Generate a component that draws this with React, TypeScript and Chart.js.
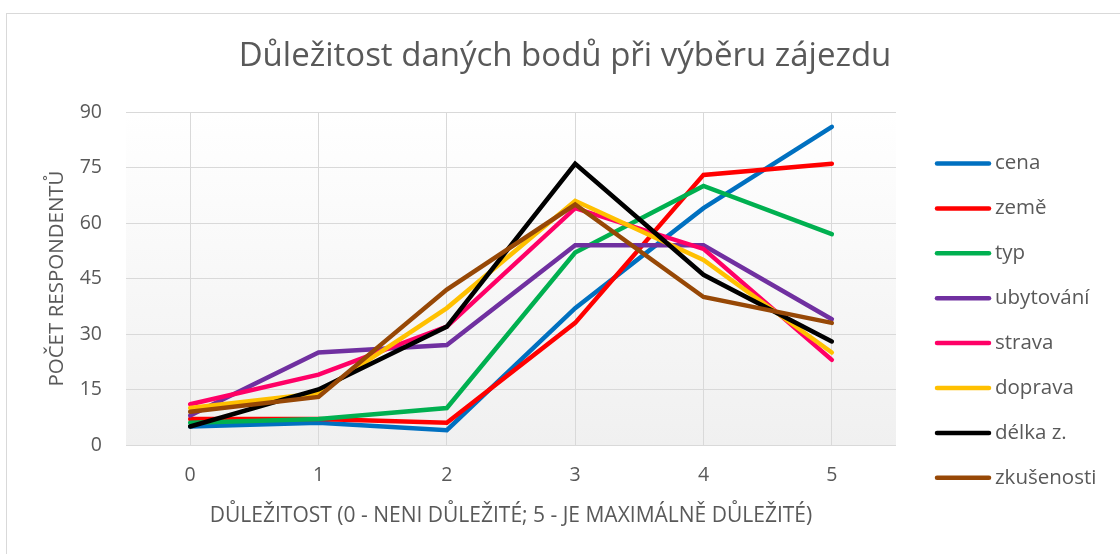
import { useEffect, useRef } from "react";
import { Chart, registerables } from "chart.js";

Chart.register(...registerables);

const categories = ["0", "1", "2", "3", "4", "5"];
const seriesNames = ["cena", "země", "typ", "ubytování", "strava", "doprava", "délka z.", "zkušenosti"];
const cena = [5, 6, 4, 37, 64, 86];
const zeme = [7, 7, 6, 33, 73, 76];
const typ = [6, 7, 10, 52, 70, 57];
const ubytovani = [8, 25, 27, 54, 54, 34];
const strava = [11, 19, 32, 64, 53, 23];
const doprava = [10, 14, 37, 66, 50, 25];
const delkaZ = [5, 15, 32, 76, 46, 28];
const zkusenosti = [9, 13, 42, 65, 40, 33];
const seriesColors = ["#0070C0", "#FF0000", "#00B050", "#7030A0", "#FF0066", "#FFC000", "#000000", "#974806"];
const yMin = 0;
const yMax = 90;
const yStep = 15;

const titleText = "Důležitost daných bodů při výběru zájezdu";
const xTitle = "DŮLEŽITOST (0 - NENI DŮLEŽITÉ; 5 - JE MAXIMÁLNĚ DŮLEŽITÉ)";
const yTitle = "POČET RESPONDENTŮ";

const FONT = "'Open Sans', sans-serif";
const TEXT = "#595959";

export default function App() {
  const ref = useRef<HTMLCanvasElement>(null);
  useEffect(() => {
    document.body.style.margin = "0";
    const values = [cena, zeme, typ, ubytovani, strava, doprava, delkaZ, zkusenosti];
    const n = values.length;
    const bgPlugin = {
      id: "bg",
      beforeDraw(chart: any) {
        const { ctx, chartArea } = chart;
        ctx.save();
        ctx.fillStyle = "#ffffff";
        ctx.fillRect(0, 0, chart.width, chart.height);
        ctx.strokeStyle = "#d9d9d9";
        ctx.lineWidth = 1;
        ctx.strokeRect(6.5, 13.5, chart.width + 20, chart.height + 20);
        const g = ctx.createLinearGradient(0, chartArea.top, 0, chartArea.bottom);
        g.addColorStop(0, "#ffffff");
        g.addColorStop(1, "#f0f0f0");
        ctx.fillStyle = g;
        ctx.fillRect(chartArea.left, chartArea.top, chartArea.right - chartArea.left, chartArea.bottom - chartArea.top);
        ctx.restore();
      },
    };
    const textPlugin = {
      id: "customText",
      afterDraw(chart: any) {
        const { ctx } = chart;
        ctx.save();
        ctx.fillStyle = TEXT;
        ctx.font = `33px ${FONT}`;
        ctx.textAlign = "center";
        ctx.textBaseline = "middle";
        ctx.fillText(titleText, 565, 57);
        chart.data.datasets.forEach((ds: any, i: number) => {
          const y = 163.5 + i * 44.9;
          ctx.strokeStyle = ds.borderColor;
          ctx.lineWidth = 4.5;
          ctx.lineCap = "round";
          ctx.beginPath();
          ctx.moveTo(937, y);
          ctx.lineTo(989, y);
          ctx.stroke();
          ctx.fillStyle = TEXT;
          ctx.font = `20.5px ${FONT}`;
          ctx.textBaseline = "middle";
          ctx.textAlign = "left";
          ctx.fillText(ds.label, 995, y);
        });
        ctx.restore();
      },
    };
    const chart = new Chart(ref.current!, {
      type: "line",
      data: {
        labels: categories,
        datasets: values.map((v, i) => ({
          label: seriesNames[i],
          data: v,
          borderColor: seriesColors[i],
          backgroundColor: seriesColors[i],
          borderWidth: 4.5,
          borderCapStyle: "round",
          borderJoinStyle: "miter",
          pointRadius: 0,
          pointHoverRadius: 0,
          tension: 0,
          fill: false,
          order: n - i,
        })),
      },
      options: {
        animation: false,
        responsive: false,
        maintainAspectRatio: false,
        layout: { padding: { left: 0, right: 224, top: 112, bottom: 0 } },
        plugins: {
          legend: { display: false },
          tooltip: { enabled: false },
          title: { display: false },
        },
        scales: {
          x: {
            type: "category",
            offset: true,
            grid: { display: true, offset: false, color: "#d9d9d9", lineWidth: 1, drawTicks: false },
            border: { display: false },
            ticks: { color: TEXT, font: { family: FONT, size: 19.5 }, padding: 18.5 },
            title: {
              display: true,
              text: xTitle,
              color: TEXT,
              font: { family: FONT, size: 21, lineHeight: 1.2 },
              padding: { top: 0, bottom: 25.5 },
            },
            afterFit(scale: any) {
              scale.height = 109;
            },
          },
          y: {
            min: yMin,
            max: yMax,
            grid: { color: "#d9d9d9", lineWidth: 1, drawTicks: false },
            border: { display: false },
            ticks: { stepSize: yStep, color: TEXT, font: { family: FONT, size: 19.5 }, padding: 24 },
            title: {
              display: true,
              text: yTitle,
              color: TEXT,
              font: { family: FONT, size: 20.5, lineHeight: 1.2 },
              padding: { top: 44.7, bottom: 0 },
            },
            afterFit(scale: any) {
              scale.width = 126;
            },
          },
        },
      },
      plugins: [bgPlugin, textPlugin],
    } as any);
    return () => chart.destroy();
  }, []);
  return (
    <div style={{ position: "relative", width: 1120, height: 554 }}>
      <canvas ref={ref} width={1120} height={554} style={{ display: "block", width: 1120, height: 554 }} />
    </div>
  );
}
